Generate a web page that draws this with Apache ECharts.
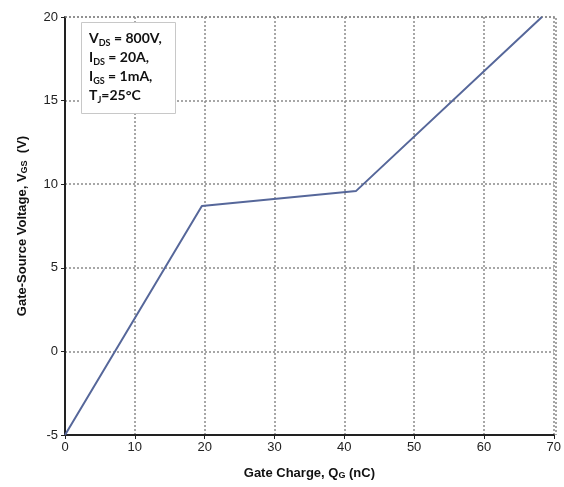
<!DOCTYPE html>
<html>
<head>
<meta charset="utf-8">
<script src="https://cdn.jsdelivr.net/npm/echarts@6/dist/echarts.min.js"></script>
<style>
  html, body { margin: 0; padding: 0; background: #fff; }
  #chart { width: 564px; height: 487px; }
</style>
</head>
<body>
<div id="chart"></div>
<script>
// Gate charge curve: gate-source voltage versus total gate charge
const gateCharge = [0, 19.6, 41.7, 68.3];     // Q_G (nC)
const gateVoltage = [-5, 8.7, 9.6, 20];       // V_GS (V)

const xTicks = [0, 10, 20, 30, 40, 50, 60, 70];
const yTicks = [-5, 0, 5, 10, 15, 20];

const conditions = [
  ['V', 'DS', ' = 800V,'],
  ['I', 'DS', ' = 20A,'],
  ['I', 'GS', ' = 1mA,'],
  ['T', 'J', '=25°C']
];

const points = gateCharge.map((q, i) => [q, gateVoltage[i]]);
const condText = conditions.map(c => `{m|${c[0]}}{s|${c[1]}}{m|${c[2]}}`).join('\n');

const chart = echarts.init(document.getElementById('chart'), null, { renderer: 'canvas' });

const gridLine = { show: true, lineStyle: { color: '#8a8a8a', type: [2, 2], width: 1.5 } };

chart.setOption({
  animation: false,
  backgroundColor: '#ffffff',
  grid: { left: 65, right: 8, top: 17, bottom: 52, show: true, borderColor: 'transparent' },
  title: {
    text: condText,
    left: 81,
    top: 20,
    padding: [9, 14, 9, 8],
    backgroundColor: '#ffffff',
    borderColor: '#c8c8c8',
    borderWidth: 1,
    textStyle: {
      rich: {
        m: { fontFamily: 'Lato, "Open Sans", sans-serif', fontWeight: 'bold', fontSize: 14, color: '#111', lineHeight: 19 },
        s: { fontFamily: 'Lato, "Open Sans", sans-serif', fontWeight: 'bold', fontSize: 9, color: '#111', lineHeight: 19, verticalAlign: 'bottom', padding: [7, 0, 0, 0] }
      }
    }
  },
  xAxis: {
    type: 'value',
    min: xTicks[0],
    max: xTicks[xTicks.length - 1],
    interval: 10,
    name: '{b|Gate Charge, Q}{s|G}{b| (nC)}',
    nameLocation: 'middle',
    nameGap: 31,
    nameTextStyle: {
      rich: {
        b: { fontFamily: 'Liberation Sans, Arial, sans-serif', fontWeight: 'bold', fontSize: 13, color: '#111' },
        s: { fontFamily: 'Liberation Sans, Arial, sans-serif', fontWeight: 'bold', fontSize: 9, color: '#111', padding: [5, 0, 0, 0] }
      }
    },
    axisLine: { onZero: false, lineStyle: { color: '#222', width: 2 } },
    axisTick: { show: true, inside: false, length: 4, lineStyle: { color: '#222', width: 1 } },
    axisLabel: { fontFamily: 'Liberation Sans, Arial, sans-serif', fontSize: 13, color: '#222', margin: 6 },
    splitLine: gridLine
  },
  yAxis: {
    type: 'value',
    min: yTicks[0],
    max: yTicks[yTicks.length - 1],
    interval: 5,
    name: '{b|Gate-Source Voltage, V}{s|GS}{b|  (V)}',
    nameLocation: 'middle',
    nameGap: 36,
    nameTextStyle: {
      rich: {
        b: { fontFamily: 'Liberation Sans, Arial, sans-serif', fontWeight: 'bold', fontSize: 13, color: '#111' },
        s: { fontFamily: 'Liberation Sans, Arial, sans-serif', fontWeight: 'bold', fontSize: 9, color: '#111', padding: [5, 0, 0, 0] }
      }
    },
    axisLine: { show: true, onZero: false, lineStyle: { color: '#222', width: 2 } },
    axisTick: { show: true, inside: false, length: 4, lineStyle: { color: '#222', width: 1 } },
    axisLabel: { fontFamily: 'Liberation Sans, Arial, sans-serif', fontSize: 13, color: '#222', margin: 7 },
    splitLine: gridLine
  },
  series: [{
    type: 'line',
    data: points,
    showSymbol: false,
    lineStyle: { color: '#56679a', width: 2 },
    z: 3
  }],
  graphic: [{
    // dotted frame along the top and right of the plot area
    type: 'polyline',
    shape: { points: [[65, 17], [556, 17], [556, 435]] },
    style: { stroke: '#8a8a8a', lineWidth: 1.5, lineDash: [2, 2], fill: null },
    z: 1
  }]
});
</script>
</body>
</html>
